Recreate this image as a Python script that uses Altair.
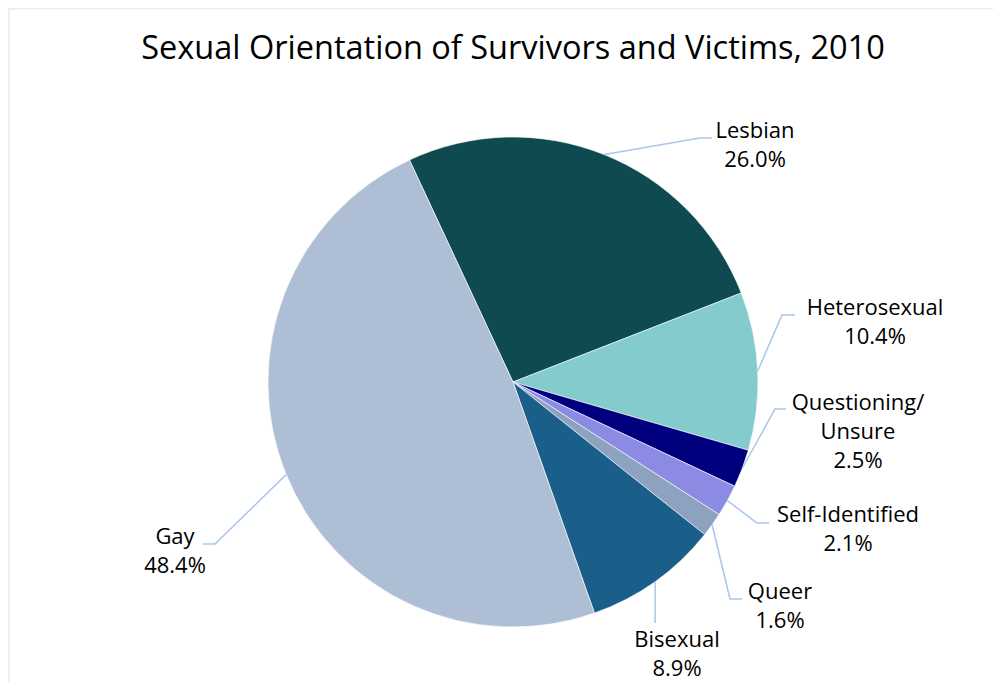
import math
import altair as alt
import pandas as pd

# ---- data ----
categories = ["Lesbian", "Heterosexual", "Questioning/Unsure", "Self-Identified", "Queer", "Bisexual", "Gay"]
values = [26.0, 10.4, 2.5, 2.1, 1.6, 8.9, 48.4]
display_names = ["Lesbian", "Heterosexual", "Questioning/\nUnsure", "Self-Identified", "Queer", "Bisexual", "Gay"]
colors = ["#0F4A51", "#84CBCE", "#00007F", "#8B8BE3", "#8CA2BE", "#1A5E8A", "#AEBFD5"]
title_text = "Sexual Orientation of Survivors and Victims, 2010"

# ---- layout (pixels, relative to pie centre, y downward) ----
W, H = 985, 604
TOP_PAD = 70
CX, CY = 505, 304          # pie centre inside plot area
R = 245
first_slice_deg = -25.0
label_pos = {  # centre x, first-line y
    "Lesbian": (242, -251), "Heterosexual": (362, -74), "Questioning/Unsure": (345, 21),
    "Self-Identified": (335, 133), "Queer": (267, 210), "Bisexual": (164, 258), "Gay": (-338, 155),
}
leader_pts = {  # elbow, end
    "Lesbian": [(187, -244), (199, -244)], "Heterosexual": [(269, -67), (282, -67)],
    "Questioning/Unsure": [(262, 27), (273, 27)], "Self-Identified": [(244, 141), (256, 141)],
    "Queer": [(217, 217), (229, 217)], "Bisexual": [(143, 241), (143, 241)],
    "Gay": [(-298, 162), (-310, 162)],
}

total = sum(values)
df = pd.DataFrame({"cat": categories, "value": values, "idx": range(len(categories))})
df["label"] = [f"{n}\n{v:.1f}%" for n, v in zip(display_names, values)]
df["lx"] = [label_pos[c][0] for c in categories]
df["ly"] = [label_pos[c][1] for c in categories]

# leader lines: start on the pie edge at each slice's mid angle
rows = []
cum = 0.0
for c, v in zip(categories, values):
    mid = math.radians(first_slice_deg) + (cum + v / 2) / total * 2 * math.pi
    cum += v
    sx, sy = R * math.sin(mid), -R * math.cos(mid)
    pts = [(sx, sy)] + leader_pts[c]
    if c == "Bisexual":
        pts = [(sx, sy), (sx, 241)]
    for i, (px, py) in enumerate(pts):
        rows.append({"cat": c, "o": i, "x": px, "y": py})
lines = pd.DataFrame(rows)

# chart-area frame (top and left edges)
fx0, fy0 = -CX + 0.5, -CY - TOP_PAD + 0.5
frame = pd.DataFrame({"x": [fx0, fx0], "y": [fy0, fy0], "x2": [W - CX, fx0], "y2": [fy0, H - CY]})

xs = alt.Scale(domain=[-CX, W - CX], range=[0, W], nice=False, zero=False)
ys = alt.Scale(domain=[-CY, H - CY], range=[0, H], nice=False, zero=False)

start = math.radians(first_slice_deg)
pie = alt.Chart(df).mark_arc(outerRadius=R, stroke="white", strokeWidth=0.6).encode(
    theta=alt.Theta("value:Q", stack=True, scale=alt.Scale(range=[start, start + 2 * math.pi])),
    order=alt.Order("idx:Q"),
    color=alt.Color("cat:N", scale=alt.Scale(domain=categories, range=colors), legend=None),
    x=alt.datum(0, scale=xs, axis=None),
    y=alt.datum(0, scale=ys, axis=None),
)

leaders = alt.Chart(lines).mark_line(color="#A9C6EA", strokeWidth=1.5).encode(
    x=alt.X("x:Q", scale=xs, axis=None),
    y=alt.Y("y:Q", scale=ys, axis=None),
    detail="cat:N",
    order="o:Q",
)

labels = alt.Chart(df).mark_text(
    font="Open Sans", fontSize=22, lineBreak="\n", lineHeight=29,
    align="center", baseline="middle", color="black",
).encode(
    x=alt.X("lx:Q", scale=xs, axis=None),
    y=alt.Y("ly:Q", scale=ys, axis=None),
    text="label:N",
)

border = alt.Chart(frame).mark_rule(color="#EBEBEB", strokeWidth=2).encode(
    x=alt.X("x:Q", scale=xs, axis=None), x2="x2:Q",
    y=alt.Y("y:Q", scale=ys, axis=None), y2="y2:Q",
)

chart = alt.layer(border, pie, leaders, labels).properties(
    width=W, height=H,
    title=alt.TitleParams(title_text, font="Open Sans", fontSize=32.5, fontWeight="normal", color="black",
                          anchor="middle", frame="group", dx=CX - W / 2, dy=102, offset=18,
                          baseline="alphabetic"),
    autosize=alt.AutoSizeParams(type="none"),
    padding={"left": 0, "top": TOP_PAD, "right": 0, "bottom": 0},
    background="white",
).configure_view(stroke=None)

chart.save("out.html", embed_options={"renderer": "svg", "actions": False})
